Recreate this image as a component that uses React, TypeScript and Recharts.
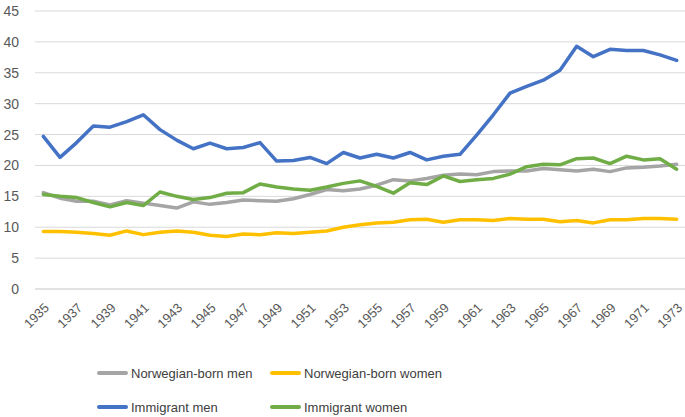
import React from "react";
import { LineChart, Line, XAxis, YAxis, CartesianGrid, Legend } from "recharts";

const years = [
  "1935", "1936", "1937", "1938", "1939", "1940", "1941", "1942", "1943", "1944",
  "1945", "1946", "1947", "1948", "1949", "1950", "1951", "1952", "1953", "1954",
  "1955", "1956", "1957", "1958", "1959", "1960", "1961", "1962", "1963", "1964",
  "1965", "1966", "1967", "1968", "1969", "1970", "1971", "1972", "1973",
];

const norwegianMen = [
  15.6, 14.7, 14.2, 14.2, 13.6, 14.3, 13.9, 13.5, 13.1, 14.1,
  13.7, 14.0, 14.4, 14.3, 14.2, 14.6, 15.3, 16.1, 15.9, 16.2,
  16.8, 17.7, 17.5, 17.9, 18.4, 18.6, 18.5, 19.0, 19.1, 19.1,
  19.5, 19.3, 19.1, 19.4, 19.0, 19.6, 19.7, 19.9, 20.2,
];

const norwegianWomen = [
  9.3, 9.3, 9.2, 9.0, 8.7, 9.4, 8.8, 9.2, 9.4, 9.2,
  8.7, 8.5, 8.9, 8.8, 9.1, 9.0, 9.2, 9.4, 10.0, 10.4,
  10.7, 10.8, 11.2, 11.3, 10.8, 11.2, 11.2, 11.1, 11.4, 11.3,
  11.3, 10.9, 11.1, 10.7, 11.2, 11.2, 11.4, 11.4, 11.3,
];

const immigrantMen = [
  24.7, 21.3, 23.7, 26.4, 26.2, 27.1, 28.2, 25.8, 24.1, 22.7,
  23.6, 22.7, 22.9, 23.7, 20.7, 20.8, 21.3, 20.3, 22.1, 21.2,
  21.8, 21.2, 22.1, 20.9, 21.5, 21.8, 24.9, 28.2, 31.7, 32.8,
  33.8, 35.4, 39.3, 37.6, 38.8, 38.6, 38.6, 37.9, 37.0,
];

const immigrantWomen = [
  15.3, 15.0, 14.8, 14.0, 13.3, 14.0, 13.5, 15.7, 15.0, 14.5,
  14.8, 15.5, 15.6, 17.0, 16.5, 16.2, 16.0, 16.5, 17.1, 17.5,
  16.6, 15.5, 17.2, 16.9, 18.3, 17.4, 17.7, 17.9, 18.6, 19.8,
  20.2, 20.1, 21.1, 21.2, 20.3, 21.5, 20.9, 21.1, 19.4,
];

const yTicks = [0, 5, 10, 15, 20, 25, 30, 35, 40, 45];

const seriesInfo = [
  { key: "nm", name: "Norwegian-born men", color: "#A5A5A5" },
  { key: "nw", name: "Norwegian-born women", color: "#FFC000" },
  { key: "im", name: "Immigrant men", color: "#4472C4" },
  { key: "iw", name: "Immigrant women", color: "#70AD47" },
];

const data = years.map((y, i) => ({
  year: y,
  nm: norwegianMen[i],
  nw: norwegianWomen[i],
  im: immigrantMen[i],
  iw: immigrantWomen[i],
}));

const FONT = "'Liberation Sans', Arial, sans-serif";

const LegendContent = () => (
  <div style={{ height: 68, width: 685, fontFamily: FONT, fontSize: 13, color: "#404040" }}>
    {[0, 1].map((row) => (
      <div key={row} style={{ display: "flex", height: 34, alignItems: "center", paddingLeft: 97 }}>
        {seriesInfo.slice(row * 2, row * 2 + 2).map((s) => (
          <div
            key={s.key}
            style={{ display: "flex", alignItems: "center", width: 173, flexShrink: 0, whiteSpace: "nowrap" }}
          >
            <div style={{ width: 31, height: 4, background: s.color, borderRadius: 2, marginRight: 3, flexShrink: 0 }} />
            <span>{s.name}</span>
          </div>
        ))}
      </div>
    ))}
  </div>
);

export default function App() {
  return (
    <div style={{ position: "absolute", left: 0, top: 0, width: 685, height: 417, background: "#fff" }}>
      <LineChart width={685} height={417} data={data} margin={{ top: 11, right: 0, bottom: 0, left: 0 }}>
        <CartesianGrid vertical={false} stroke="#D9D9D9" strokeWidth={1} />
        <XAxis
          dataKey="year"
          scale="band"
          interval={1}
          height={60}
          axisLine={{ stroke: "#D9D9D9" }}
          tickLine={false}
          tickSize={0}
          tickMargin={13}
          angle={-45}
          textAnchor="end"
          tick={{ fontSize: 13, fill: "#595959", fontFamily: FONT }}
        />
        <YAxis
          domain={[0, 45]}
          ticks={yTicks}
          width={35}
          axisLine={false}
          tickLine={false}
          tickSize={0}
          tickMargin={16}
          tick={{ fontSize: 14, fill: "#595959", fontFamily: FONT }}
        />
        <Legend
          content={<LegendContent />}
          wrapperStyle={{ top: 356, left: 0, bottom: "auto", width: 685, height: 68 }}
        />
        {seriesInfo.map((s) => (
          <Line
            key={s.key}
            type="linear"
            dataKey={s.key}
            name={s.name}
            stroke={s.color}
            strokeWidth={3.5}
            strokeLinejoin="round"
            strokeLinecap="round"
            dot={false}
            activeDot={false}
            isAnimationActive={false}
          />
        ))}
      </LineChart>
    </div>
  );
}
